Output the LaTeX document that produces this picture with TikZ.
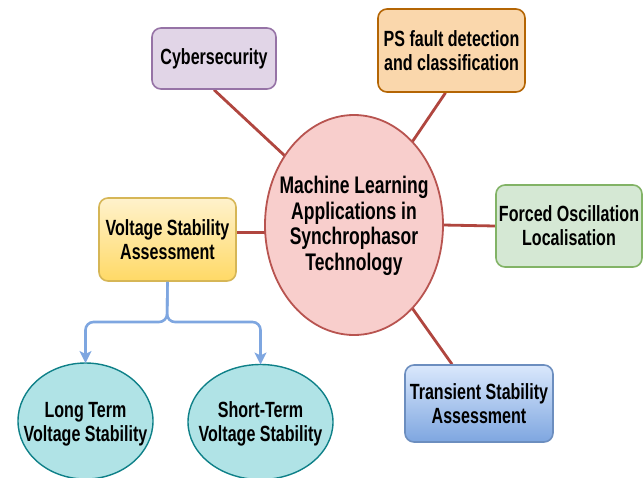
\documentclass[tikz,border=0pt]{standalone}
\usepackage{fontspec}
\setmainfont[FakeStretch=0.73]{Liberation Sans}
\usetikzlibrary{shapes.geometric,arrows.meta,backgrounds,calc}

\definecolor{purpleFill}{HTML}{E1D5E7}\definecolor{purpleLine}{HTML}{9673A6}
\definecolor{orangeFill}{HTML}{FAD7AC}\definecolor{orangeLine}{HTML}{B46504}
\definecolor{redFill}{HTML}{F8CECC}\definecolor{redLine}{HTML}{B85450}
\definecolor{greenFill}{HTML}{D5E8D4}\definecolor{greenLine}{HTML}{82B366}
\definecolor{yellowTop}{HTML}{FFF2CC}\definecolor{yellowBot}{HTML}{FFD966}\definecolor{yellowLine}{HTML}{D6B656}
\definecolor{blueTop}{HTML}{DAE8FC}\definecolor{blueBot}{HTML}{7EA6E0}\definecolor{blueLine}{HTML}{6C8EBF}
\definecolor{tealFill}{HTML}{B0E3E6}\definecolor{tealLine}{HTML}{0E8088}
\definecolor{linkRed}{HTML}{B0463F}
\definecolor{linkBlue}{HTML}{7EA6E0}

\tikzset{
  label text/.style={font=\fontsize{22}{24}\selectfont\bfseries, align=center, inner sep=0pt, text=black},
  topicbox/.style={label text, rectangle, rounded corners=9pt, line width=1.6pt},
  topicoval/.style={ellipse, inner sep=0pt, outer sep=0pt, line width=1.4pt},
  spoke/.style={draw=linkRed, line width=2.8pt},
  branch/.style={draw=linkBlue, line width=2.6pt, rounded corners=8pt,
    -{Stealth[length=12pt,width=12pt,inset=3pt]}},
}

\begin{document}
\begin{tikzpicture}[x=1pt,y=-1pt]
\useasboundingbox (0,0) rectangle (644,477);
\clip (0,0) rectangle (644,477);

% hub: the oval and its caption
\node[topicoval, fill=redFill, draw=redLine, line width=1.8pt, minimum width=178pt, minimum height=220pt]
  (ml) at (354,225) {};
\node[label text, font=\fontsize{24}{25.5}\selectfont\bfseries] (mlText) at ($(ml.center)+(0,1)$)
  {Machine Learning\\Applications in\\Synchrophasor\\Technology};

% application areas
\node[topicbox, fill=purpleFill, draw=purpleLine, minimum width=124pt, minimum height=61pt]
  (cyber) at (214,58.5) {Cybersecurity};
\node[topicbox, fill=orangeFill, draw=orangeLine, minimum width=147pt, minimum height=83pt]
  (psf) at (451.5,50.5) {PS fault detection\\and classification};
\node[topicbox, fill=greenFill, draw=greenLine, minimum width=146pt, minimum height=82pt]
  (foc) at (569,226) {Forced Oscillation\\Localisation};
\node[topicbox, top color=yellowTop, bottom color=yellowBot, draw=yellowLine,
      minimum width=137pt, minimum height=83pt]
  (vsa) at (167.5,239.5) {Voltage Stability\\Assessment};
\node[topicbox, top color=blueTop, bottom color=blueBot, draw=blueLine,
      minimum width=148pt, minimum height=77pt]
  (tsa) at (479,403.5) {Transient Stability\\Assessment};

% voltage stability sub-types
\node[topicoval, fill=tealFill, draw=tealLine, minimum width=135pt, minimum height=116pt]
  (lt) at (85.5,421) {};
\node[label text] (ltText) at ($(lt.center)+(0,3)$) {Long Term\\Voltage Stability};
\node[topicoval, fill=tealFill, draw=tealLine, minimum width=145pt, minimum height=115pt]
  (st) at (260.5,422) {};
\node[label text] (stText) at ($(st.center)+(0,2)$) {Short-Term\\Voltage Stability};

\begin{scope}[on background layer]
  \draw[spoke] (cyber.south) -- (ml.135);
  \draw[spoke] ($(psf.south)+(-6,0)$) -- (ml.55);
  \draw[spoke] (ml.east) -- (foc.west);
  \draw[spoke] ($(tsa.north)+(-27,0)$) -- (ml.-55);
  \coordinate (vsaR) at ($(vsa.east)+(0,-7)$);
  \draw[spoke] (vsaR) -- (vsaR -| ml.west);
\end{scope}

\coordinate (split) at (167,322);
\draw[branch] (vsa.south) -- (split) -| (lt.north);
\draw[branch] (vsa.south) -- (split) -| (st.north);
\end{tikzpicture}
\end{document}
